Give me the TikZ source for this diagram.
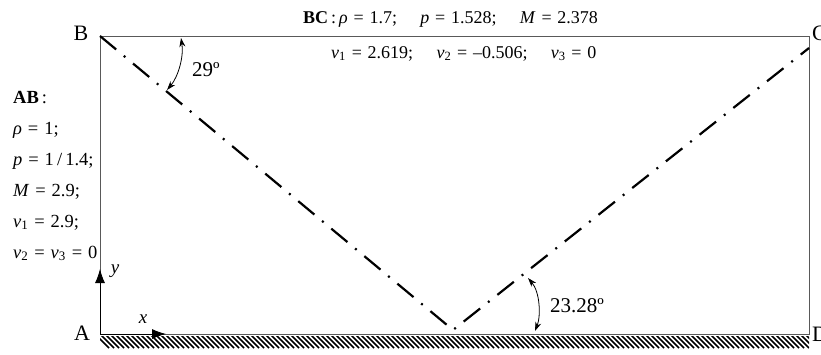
\documentclass[tikz,border=0pt]{standalone}
\usepackage{fontspec}
\setmainfont{Liberation Serif}
\usetikzlibrary{arrows.meta}
\newcommand{\eqsign}{\hspace{0.32em}=\hspace{0.32em}}
\begin{document}
\begin{tikzpicture}[x=1pt,y=-1pt,
  frame/.style={draw=black!65, line width=0.9pt},
  shock/.style={line width=2.2pt, dash pattern=on 21pt off 10pt on 2pt off 10pt},
  lbl/.style={font=\fontsize{22}{24}\selectfont, inner sep=0pt},
  eq/.style={font=\fontsize{18.5}{20}\selectfont, inner sep=0pt, anchor=base west},
  eqb/.style={font=\fontsize{18}{20}\selectfont, inner sep=0pt, anchor=base west},
  ang/.style={font=\fontsize{21}{24}\selectfont, inner sep=0pt},
  angarrow/.style={{Stealth[length=9pt,width=6pt]}-{Stealth[length=9pt,width=6pt]}, line width=0.8pt},
  axis/.style={-{Latex[length=14pt,width=10pt]}, line width=0.8pt},
  hatch/.style={line width=1.5pt}
]
\useasboundingbox (0,0) rectangle (821,354);
\coordinate (A) at (100,334);
\coordinate (B) at (100,36);
\coordinate (C) at (809,36);
\coordinate (D) at (809,334);
\coordinate (R) at (453,330);
\coordinate (E) at (809,48);
% hatching
\begin{scope}
  \clip (100,336) rectangle (809,348);
  \foreach \i in {0,...,145} \draw[hatch] ({96+5*\i},335) -- ++(13,13);
\end{scope}
% frame
\draw[frame] (A) -- (B) -- (C) -- (D) -- cycle;
% shocks
\draw[shock] (B) -- (R) -- (E);
% axes
\coordinate (ytip) at (100,269);
\coordinate (xtip) at (166,334);
\draw[axis] (A) -- (ytip);
\draw[axis] (A) -- (xtip);
\node[font=\fontsize{19}{20}\selectfont\itshape, inner sep=0pt] (ylab) at (115,271) {y};
\node[font=\fontsize{19}{20}\selectfont\itshape, inner sep=0pt] (xlab) at (143,319) {x};
% corner labels
\node[lbl] (Alab) at (82,333) {A};
\node[lbl] (Blab) at (81,33) {B};
\node[lbl, anchor=west] (Clab) at (812,33) {C};
\node[lbl, anchor=west] (Dlab) at (812,334) {D};
% angles
\coordinate (a1) at (167,90);
\coordinate (a2) at (181,38);
\draw[angarrow] (a1) .. controls (178,77) and (184,57) .. (a2);
\node[ang] (ang1) at (206,70) {29º};
\coordinate (b1) at (528,278);
\coordinate (b2) at (535,331);
\draw[angarrow] (b1) .. controls (540,292) and (541,316) .. (b2);
\node[ang] (ang2) at (577,306) {23.28º};
% BC text
\node[eqb] (bc1) at (303,23) {\textbf{BC}\,:\,\textit{ρ}\eqsign 1.7;\hspace{1.3em}\textit{p}\eqsign 1.528;\hspace{1.3em}\textit{M}\eqsign 2.378};
\node[eqb] (bc2) at (331,58) {\textit{v}\textsubscript{1}\eqsign 2.619;\hspace{1.3em}\textit{v}\textsubscript{2}\eqsign –0.506;\hspace{1.3em}\textit{v}\textsubscript{3}\eqsign 0};
% AB text
\node[eq] (ab0) at (13,103) {\textbf{AB}\,:};
\node[eq] (ab1) at (13,134) {\textit{ρ}\eqsign 1;};
\node[eq] (ab2) at (13,165) {\textit{p}\eqsign 1\,/\,1.4;};
\node[eq] (ab3) at (13,196) {\textit{M}\eqsign 2.9;};
\node[eq] (ab4) at (13,227) {\textit{v}\textsubscript{1}\eqsign 2.9;};
\node[eq] (ab5) at (13,258) {\textit{v}\textsubscript{2}\eqsign\textit{v}\textsubscript{3}\eqsign 0};
\end{tikzpicture}
\end{document}
